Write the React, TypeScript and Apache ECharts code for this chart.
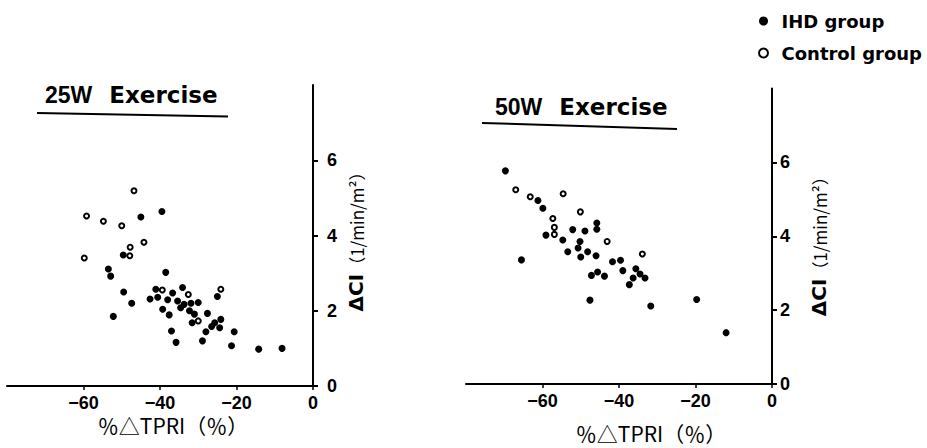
import { useEffect, useRef } from 'react';
import * as echarts from 'echarts';

const legendNames = ['IHD group', 'Control group'];
const panelTitles = ['25W', '50W'];

// 25W exercise: [%ΔTPRI, ΔCI]
const ihd25W: [number, number][] = [
  [-45.0, 4.49], [-39.5, 4.64], [-49.6, 3.48], [-53.5, 3.11], [-52.9, 2.92],
  [-38.5, 3.02], [-49.5, 2.50], [-47.4, 2.20], [-52.2, 1.85], [-41.1, 2.57],
  [-34.1, 2.62], [-36.7, 2.47], [-25.0, 2.38], [-42.6, 2.31], [-40.6, 2.36],
  [-38.0, 2.29], [-35.4, 2.26], [-33.7, 2.17], [-31.9, 2.20], [-30.0, 2.22],
  [-34.6, 2.08], [-32.3, 2.00], [-39.3, 2.04], [-37.6, 1.89], [-31.0, 1.91],
  [-27.6, 1.93], [-31.6, 1.68], [-25.7, 1.68], [-24.1, 1.77], [-26.5, 1.58],
  [-24.4, 1.55], [-28.0, 1.44], [-20.6, 1.44], [-37.0, 1.46], [-35.8, 1.16],
  [-28.9, 1.20], [-21.3, 1.07], [-14.2, 0.98], [-8.1, 1.00],
];
const control25W: [number, number][] = [
  [-46.8, 5.19], [-59.2, 4.52], [-54.8, 4.38], [-50.0, 4.26], [-44.2, 3.82],
  [-47.8, 3.69], [-47.9, 3.46], [-59.8, 3.40], [-39.4, 2.55], [-32.6, 2.43],
  [-24.1, 2.57], [-30.0, 1.73],
];

// 50W exercise
const ihd50W: [number, number][] = [
  [-69.7, 5.77], [-61.2, 4.97], [-59.9, 4.76], [-59.1, 4.03], [-54.7, 3.90],
  [-52.1, 4.18], [-48.9, 4.14], [-45.8, 4.36], [-45.8, 4.19], [-50.2, 3.86],
  [-50.7, 3.68], [-53.4, 3.58], [-50.0, 3.44], [-48.2, 3.58], [-46.0, 3.47],
  [-65.5, 3.36], [-47.2, 2.94], [-45.6, 3.03], [-43.8, 2.92], [-41.7, 3.31],
  [-39.6, 3.35], [-39.0, 3.07], [-35.6, 3.12], [-34.5, 2.98], [-33.2, 2.87],
  [-36.3, 2.87], [-37.3, 2.69], [-47.6, 2.27], [-31.7, 2.11], [-19.7, 2.29],
  [-12.0, 1.39],
];
const control50W: [number, number][] = [
  [-67.0, 5.26], [-63.2, 5.07], [-54.6, 5.15], [-50.1, 4.66], [-57.3, 4.48],
  [-56.9, 4.24], [-56.9, 4.05], [-43.1, 3.86], [-33.9, 3.52],
];

const labelFont = {
  fontFamily: 'Liberation Sans',
  fontWeight: 'bold' as const,
  fontSize: 18,
  lineHeight: 18,
  color: '#000',
};

function makeXAxis(gridIndex: number, gapPad: number, nameGap: number) {
  return {
    type: 'value',
    gridIndex,
    min: -80,
    max: 0,
    interval: 20,
    name: '％△TPRI（％）',
    nameLocation: 'middle',
    nameGap,
    nameMoveOverlap: false,
    nameTextStyle: {
      fontFamily: 'Noto Sans CJK JP',
      fontSize: 21,
      lineHeight: 21,
      color: '#000',
      padding: [0, 0, 0, gapPad],
    },
    axisLine: { show: true, onZero: false, lineStyle: { color: '#000', width: 2 } },
    axisTick: { show: true, inside: false, length: 4, lineStyle: { color: '#000', width: 1.5 } },
    axisLabel: {
      show: true,
      showMinLabel: false,
      margin: 8,
      ...labelFont,
      formatter: (v: number) => (v === 0 ? '0' : '−' + Math.abs(v)),
    },
    splitLine: { show: false },
  };
}

function makeYAxis(gridIndex: number, pad: number, gap: number, labelMargin: number) {
  return {
    type: 'value',
    gridIndex,
    position: 'right',
    min: 0,
    max: 8,
    interval: 2,
    name: '{a|ΔCI}{b|（1/min/m²）}',
    nameLocation: 'middle',
    nameRotate: 90,
    nameGap: gap,
    nameTextStyle: {
      color: '#000',
      padding: [0, pad, 0, 0],
      rich: {
        a: { fontFamily: 'DejaVu Sans', fontWeight: 'bold', fontSize: 20, color: '#000' },
        b: { fontFamily: 'Noto Sans CJK JP', fontSize: 17, color: '#000' },
      },
    },
    axisLine: { show: true, onZero: false, lineStyle: { color: '#000', width: 2 } },
    axisTick: { show: true, inside: false, length: 5, lineStyle: { color: '#000', width: 2 } },
    axisLabel: { show: true, showMaxLabel: false, margin: labelMargin, ...labelFont },
    splitLine: { show: false },
  };
}

function ihdSeries(data: [number, number][], idx: number) {
  return {
    name: legendNames[0],
    type: 'scatter',
    xAxisIndex: idx,
    yAxisIndex: idx,
    data,
    symbol: 'circle',
    symbolSize: 7,
    itemStyle: { color: '#000', opacity: 1 },
  };
}

function controlSeries(data: [number, number][], idx: number) {
  return {
    name: legendNames[1],
    type: 'scatter',
    xAxisIndex: idx,
    yAxisIndex: idx,
    data,
    symbol: 'circle',
    symbolSize: 5,
    itemStyle: { color: '#fff', borderColor: '#000', borderWidth: 2, opacity: 1 },
  };
}

function makeTitle(label: string, left: number, top: number) {
  return {
    text: '{a|' + label + '}{s| }{b|Exercise}',
    left,
    top,
    padding: 0,
    textStyle: {
      rich: {
        a: { fontFamily: 'Liberation Sans', fontWeight: 'bold', fontSize: 23, color: '#000' },
        s: { fontSize: 22, width: 17 },
        b: { fontFamily: 'DejaVu Sans', fontWeight: 'bold', fontSize: 23, color: '#000' },
      },
    },
  };
}

export default function App() {
  const ref = useRef<HTMLDivElement>(null);

  useEffect(() => {
    if (!ref.current) return;
    const chart = echarts.init(ref.current, null, { renderer: 'svg' });
    chart.setOption({
      animation: false,
      backgroundColor: '#fff',
      title: [makeTitle(panelTitles[0], 45, 83), makeTitle(panelTitles[1], 495, 95)],
      legend: {
        orient: 'vertical',
        left: 758,
        top: 11,
        itemWidth: 26,
        itemHeight: 9,
        itemGap: 12,
        icon: 'circle',
        padding: 0,
        data: legendNames,
        textStyle: {
          fontFamily: 'DejaVu Sans',
          fontWeight: 'bold',
          fontSize: 18,
          color: '#000',
          lineHeight: 20,
          padding: 0,
        },
      },
      grid: [
        { left: 7, top: 85, width: 306, height: 301 },
        { left: 466, top: 88.5, width: 306, height: 301 },
      ],
      xAxis: [makeXAxis(0, 26, 28), makeXAxis(1, 64, 38)],
      yAxis: [makeYAxis(0, 4, 33, 14), makeYAxis(1, 12, 37, 8)],
      series: [
        ihdSeries(ihd25W, 0),
        controlSeries(control25W, 0),
        ihdSeries(ihd50W, 1),
        controlSeries(control50W, 1),
      ],
      graphic: [
        { type: 'line', shape: { x1: 37, y1: 113, x2: 228, y2: 116.5 }, style: { stroke: '#000', lineWidth: 2 } },
        { type: 'line', shape: { x1: 482, y1: 123, x2: 677, y2: 129 }, style: { stroke: '#000', lineWidth: 2 } },
      ],
    });
    return () => chart.dispose();
  }, []);

  return (
    <div
      ref={ref}
      style={{ position: 'absolute', left: 0, top: 0, width: 927, height: 448 }}
    />
  );
}
